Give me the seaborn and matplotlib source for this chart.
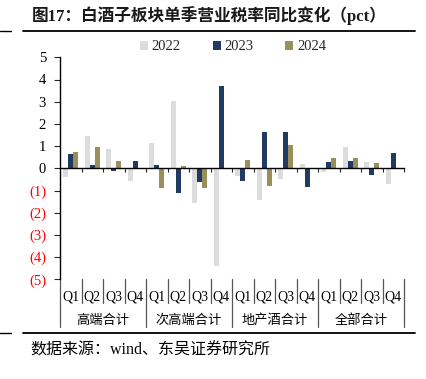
import matplotlib
matplotlib.use("Agg")
import matplotlib.pyplot as plt
import seaborn as sns
import pandas as pd
import numpy as np
from matplotlib.lines import Line2D
from matplotlib.transforms import blended_transform_factory

# ---------------- data ----------------
groups = ["高端合计", "次高端合计", "地产酒合计", "全部合计"]
quarters = ["Q1", "Q2", "Q3", "Q4"]
years = ["2022", "2023", "2024"]
v2022 = [-0.38, 1.47, 0.87, -0.56, 1.13, 3.03, -1.58, -4.39,
         -0.33, -1.41, -0.48, 0.18, -0.17, 0.94, 0.27, -0.72]
v2023 = [0.64, 0.15, -0.11, 0.31, 0.15, -1.13, -0.60, 3.71,
         -0.56, 1.64, 1.64, -0.86, 0.28, 0.31, -0.32, 0.69]
v2024 = [0.72, 0.94, 0.33, None, -0.87, 0.10, -0.87, None,
         0.37, -0.78, 1.05, None, 0.45, 0.48, 0.25, None]
yticks = [5, 4, 3, 2, 1, 0, -1, -2, -3, -4, -5]

colors = {"2022": "#DCDCDC", "2023": "#1F3A63", "2024": "#9A8E5A"}

cats = [f"{g}{q}" for g in groups for q in quarters]
rows = []
for yr, vals in zip(years, [v2022, v2023, v2024]):
    for c, v in zip(cats, vals):
        rows.append({"cat": c, "year": yr, "value": np.nan if v is None else v})
df = pd.DataFrame(rows)

# ---------------- figure ----------------
sns.set_style("white")
plt.rcParams["font.family"] = ["Liberation Serif", "Noto Sans CJK SC", "DejaVu Sans"]
plt.rcParams["axes.unicode_minus"] = False

W, H = 426, 379
fig = plt.figure(figsize=(W / 100, H / 100), dpi=100)
ax_l, ax_r, ax_t, ax_b = 60, 404, 57.3, 279.3
ax = fig.add_axes([ax_l / W, 1 - ax_b / H, (ax_r - ax_l) / W, (ax_b - ax_t) / H])

sns.barplot(data=df, x="cat", y="value", hue="year", order=cats, hue_order=years,
            palette=colors, width=0.7, linewidth=0, saturation=1, ax=ax,
            errorbar=None, legend=True)

ax.set_xlim(-0.5, len(cats) - 0.5)
ax.set_ylim(-5, 5)
ax.set_xlabel("")
ax.set_ylabel("")

# spines
for s in ["top", "right"]:
    ax.spines[s].set_visible(False)
ax.spines["bottom"].set_position(("data", 0))
ax.spines["left"].set_color("#000000")
ax.spines["bottom"].set_color("#000000")
ax.spines["left"].set_linewidth(1.0)
ax.spines["bottom"].set_linewidth(1.0)

# y ticks
ax.set_yticks(yticks)
ylabels = [str(v) if v >= 0 else f"({-v})" for v in yticks]
ax.set_yticklabels(ylabels, fontsize=10.5, family="Liberation Serif")
for lab, v in zip(ax.get_yticklabels(), yticks):
    lab.set_color("#FF0000" if v < 0 else "#000000")
ax.tick_params(axis="y", direction="out", length=4, width=0.8, pad=6, left=True)

# x ticks: boundaries, no labels
bounds = np.arange(len(cats) + 1) - 0.5
ax.set_xticks(bounds[1:])
ax.set_xticklabels([""] * len(bounds[1:]))
ax.tick_params(axis="x", direction="out", length=3, width=0.8, bottom=True)

# category labels below plot
tr = blended_transform_factory(ax.transData, ax.transAxes)
for i, c in enumerate(cats):
    ax.text(i, -0.08, quarters[i % 4], transform=tr, ha="center", va="center",
            fontsize=10, family="Liberation Serif", color="#000000")
for gi, g in enumerate(groups):
    ax.text(gi * 4 + 1.5, -0.185, g, transform=tr, ha="center", va="center",
            fontsize=9.5, family=["Noto Sans CJK SC"], color="#000000")
for i, b in enumerate(bounds):
    low = -0.215 if i % 4 == 0 else -0.108
    ax.add_line(Line2D([b, b], [0, low], transform=tr, color="#555555",
                       linewidth=0.9, clip_on=False))

# legend
ax.legend(loc="center", bbox_to_anchor=(233 / W, 1 - 47 / H), bbox_transform=fig.transFigure,
          ncol=3, frameon=False, handlelength=0.55, handleheight=0.55, handletextpad=0.25,
          columnspacing=2.2, prop={"family": "Liberation Serif", "size": 10.5})

# title and lines
fig.text(32 / W, 1 - 16 / H, "图17：白酒子板块单季营业税率同比变化（pct）",
         ha="left", va="center", fontsize=12, fontweight="bold",
         family=["Liberation Serif", "Noto Sans CJK SC"], color="#1a1a1a")
for yy in [30.5, 333]:
    fig.add_artist(Line2D([22.7 / W, 415 / W], [1 - yy / H, 1 - yy / H],
                          transform=fig.transFigure, color="#000000", linewidth=1.3))
    fig.add_artist(Line2D([0, 11 / W], [1 - yy / H, 1 - yy / H],
                          transform=fig.transFigure, color="#000000", linewidth=1.0))
fig.text(30 / W, 1 - 351 / H, "数据来源：wind、东吴证券研究所", ha="left", va="center",
         fontsize=11.5, family=["Liberation Serif", "Noto Sans CJK SC"], color="#000000")

fig.savefig("out.png", dpi=100)
